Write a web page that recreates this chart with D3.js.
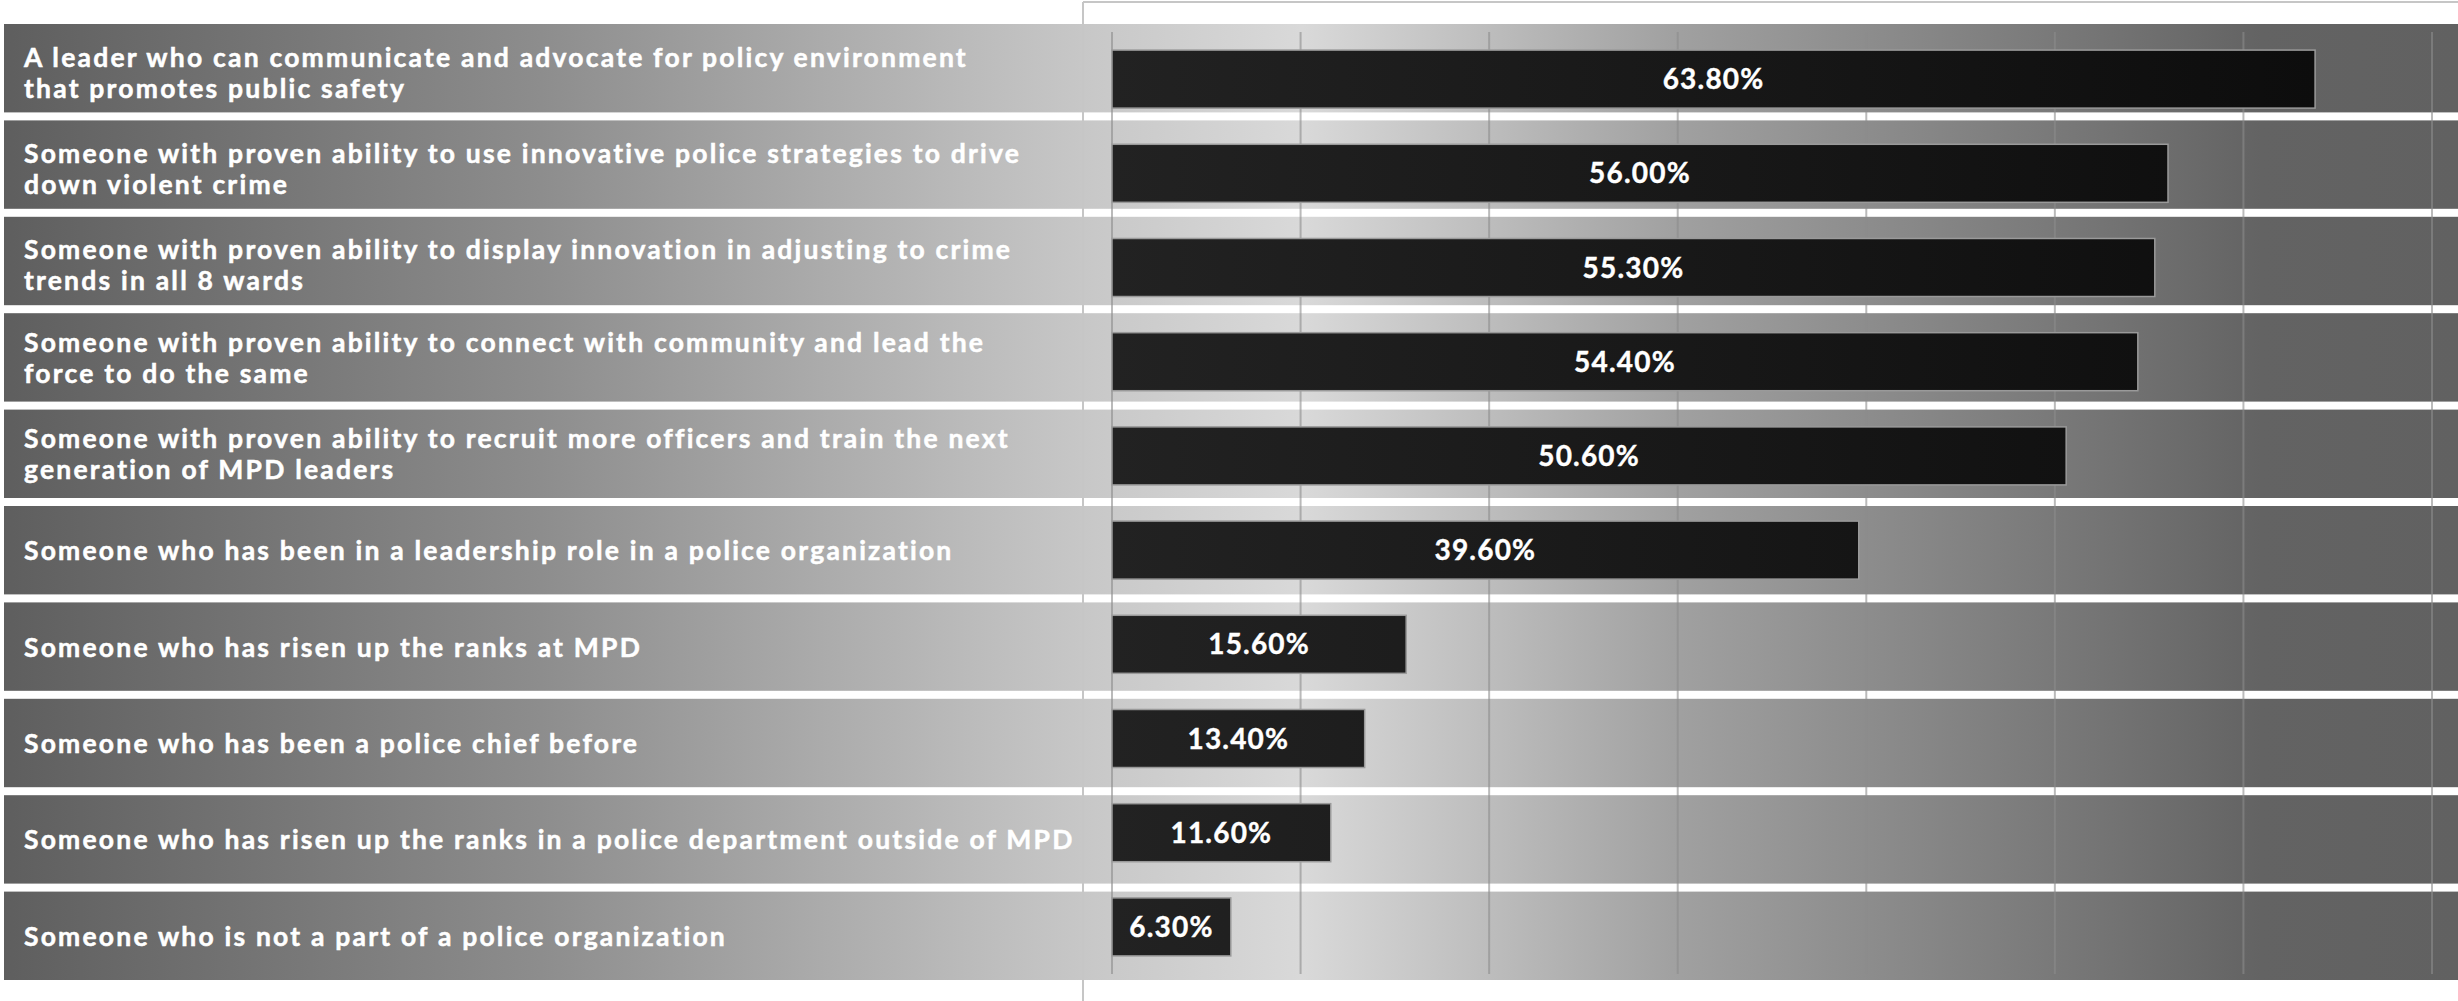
<!DOCTYPE html>
<html>
<head>
	<meta charset="utf-8">
	<title>Qualities for the next police chief</title>
	<style>
		body { margin: 0; background: #fff; }
		svg { display: block; }
	</style>
</head>
<body>
	<script src="https://d3js.org/d3.v7.min.js" charset="utf-8"></script>
	<script>
var categories = [
	'A leader who can communicate and advocate for policy environment\nthat promotes public safety',
	'Someone with proven ability to use innovative police strategies to drive\ndown violent crime',
	'Someone with proven ability to display innovation in adjusting to crime\ntrends in all 8 wards',
	'Someone with proven ability to connect with community and lead the\nforce to do the same',
	'Someone with proven ability to recruit more officers and train the next\ngeneration of MPD leaders',
	'Someone who has been in a leadership role in a police organization',
	'Someone who has risen up the ranks at MPD',
	'Someone who has been a police chief before',
	'Someone who has risen up the ranks in a police department outside of MPD',
	'Someone who is not a part of a police organization'
];
var values = [63.8, 56.0, 55.3, 54.4, 50.6, 39.6, 15.6, 13.4, 11.6, 6.3];
var xTicks = [0, 10, 20, 30, 40, 50, 60, 70];

var width = 2458, height = 1001;
var plotLeft = 1083;

var svg = d3.select('body').append('svg')
			.attr('width', width)
			.attr('height', height);

var defs = svg.append('defs');

// row background: dark -> light -> dark across the whole width
var rowGrad = defs.append('linearGradient')
	.attr('id', 'rowGrad')
	.attr('gradientUnits', 'userSpaceOnUse')
	.attr('x1', 0).attr('x2', width).attr('y1', 0).attr('y2', 0);
[[0, '#5e5e5e'], [0.22, '#8d8d8d'], [0.44, '#c7c7c7'], [0.53, '#d9d9d9'],
 [0.68, '#a1a1a1'], [0.84, '#787878'], [0.92, '#636363'], [1, '#616161']].forEach(function(s) {
	rowGrad.append('stop').attr('offset', s[0]).attr('stop-color', s[1]);
});

var x = d3.scaleLinear()
	.domain([0, 70])
	.range([plotLeft + 29, 2432]);

var yRow = d3.scaleBand()
	.domain(categories)
	.range([24, 980])
	.paddingInner(0.083)
	.paddingOuter(0);

var yBar = d3.scaleBand()
	.domain(categories)
	.range([32, 974])
	.paddingInner(0.384)
	.paddingOuter(0.192);

var barGrad = defs.append('linearGradient')
	.attr('id', 'barGrad')
	.attr('gradientUnits', 'userSpaceOnUse')
	.attr('x1', x(0)).attr('x2', x(70)).attr('y1', 0).attr('y2', 0);
barGrad.append('stop').attr('offset', 0).attr('stop-color', '#222222');
barGrad.append('stop').attr('offset', 1).attr('stop-color', '#0b0b0b');

// row bands
svg.selectAll('rect.row')
	.data(categories)
	.enter()
	.append('rect')
	.attr('class', 'row')
	.attr('x', 4)
	.attr('y', function(d) { return yRow(d); })
	.attr('width', width - 4)
	.attr('height', yRow.bandwidth())
	.attr('fill', 'url(#rowGrad)');

// plot frame
svg.append('line')
	.attr('x1', plotLeft).attr('x2', plotLeft)
	.attr('y1', 2).attr('y2', height)
	.attr('stroke', '#c6c6c6')
	.attr('stroke-width', 2);
svg.append('line')
	.attr('x1', plotLeft).attr('x2', width)
	.attr('y1', 2).attr('y2', 2)
	.attr('stroke', '#c6c6c6')
	.attr('stroke-width', 2);

// grid lines
var yr = yBar.range();
svg.selectAll('line.grid')
	.data(xTicks)
	.enter()
	.append('line')
	.attr('class', 'grid')
	.attr('x1', function(d) { return x(d); })
	.attr('x2', function(d) { return x(d); })
	.attr('y1', yr[0])
	.attr('y2', yr[1])
	.attr('stroke', '#8c8c8c')
	.attr('stroke-opacity', 0.6)
	.attr('stroke-width', 2);

// bars
svg.selectAll('rect.bar')
	.data(values)
	.enter()
	.append('rect')
	.attr('class', 'bar')
	.attr('x', x(0))
	.attr('y', function(d, i) { return yBar(categories[i]); })
	.attr('width', function(d) { return x(d) - x(0); })
	.attr('height', yBar.bandwidth())
	.attr('fill', 'url(#barGrad)')
	.attr('stroke', '#9a9a9a')
	.attr('stroke-width', 1.5);

// value labels
svg.selectAll('text.value')
	.data(values)
	.enter()
	.append('text')
	.attr('class', 'value')
	.attr('x', function(d) { return (x(0) + x(d)) / 2; })
	.attr('y', function(d, i) { return yBar(categories[i]) + yBar.bandwidth() / 2 + 10; })
	.attr('text-anchor', 'middle')
	.attr('fill', '#fff')
	.attr('stroke', '#fff')
	.attr('stroke-width', 0.4)
	.style('font-family', 'Lato, sans-serif')
	.style('font-weight', 700)
	.style('font-size', '28px')
	.style('letter-spacing', '1.2px')
	.text(function(d) { return d.toFixed(2) + '%'; });

// category labels
var lineH = 31;
var labels = svg.selectAll('text.cat')
	.data(categories)
	.enter()
	.append('text')
	.attr('class', 'cat')
	.attr('fill', '#fff')
	.attr('stroke', '#fff')
	.attr('stroke-width', 0.5)
	.style('font-family', 'Lato, sans-serif')
	.style('font-weight', 700)
	.style('font-size', '26.5px')
	.style('letter-spacing', '2.2px');

labels.each(function(d, i) {
	var lines = d.split('\n');
	var cy = yRow(d) + yRow.bandwidth() / 2;
	var first = cy - (lines.length - 1) * lineH / 2 + 10 + (i < 3 ? 4 : 0);
	var t = d3.select(this);
	lines.forEach(function(l, j) {
		t.append('tspan')
			.attr('x', 24)
			.attr('y', first + j * lineH)
			.text(l);
	});
});

	</script>
</body>
</html>
